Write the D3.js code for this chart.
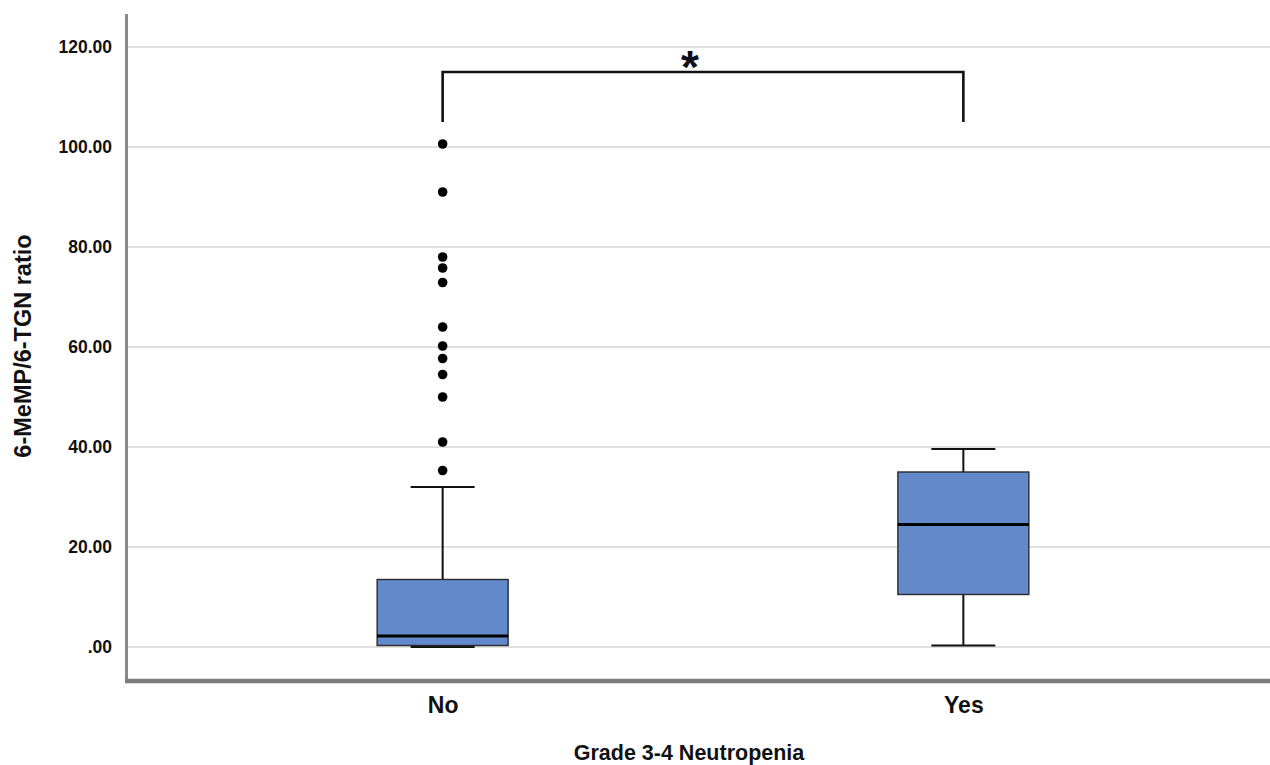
<!DOCTYPE html>
<html>
<head>
<meta charset="utf-8">
<script src="https://cdn.jsdelivr.net/npm/d3@7/dist/d3.min.js"></script>
<style>
  html, body { margin: 0; padding: 0; background: #fff; }
  svg { display: block; font-family: "Liberation Sans", Arial, sans-serif; }
</style>
</head>
<body>
<svg id="chart" width="1270" height="765"></svg>
<script>
// ---- data ----
const categories = ["No", "Yes"];
const whiskerLow = [0.0, 0.3];
const q1 = [0.3, 10.5];
const medians = [2.2, 24.5];
const q3 = [13.5, 35.0];
const whiskerHigh = [32.0, 39.6];
const outliersNo = [35.3, 41.0, 50.0, 54.5, 57.7, 60.2, 64.0, 72.9, 75.8, 78.0, 91.0, 100.6];
const outliersYes = [];
const yTicks = [0, 20, 40, 60, 80, 100, 120];
const bracketLevels = [105, 115]; // bottom of bracket legs, top bar
const yLabel = "6-MeMP/6-TGN ratio";
const xLabel = "Grade 3-4 Neutropenia";

// ---- layout ----
const svg = d3.select("#chart");
const left = 125, right = 1270, bottomAxisY = 681, topAxisY = 14;
const y = d3.scaleLinear().domain([0, 120]).range([647, 47]);
const x = d3.scalePoint().domain(categories).range([125, 1281]).padding(0.61);
const boxW = 131, capW = 64;

// gridlines
svg.append("g").selectAll("line").data(yTicks).join("line")
  .attr("x1", left).attr("x2", right)
  .attr("y1", d => y(d)).attr("y2", d => y(d))
  .attr("stroke", "#d6d6d6").attr("stroke-width", 1.6);

// y axis tick labels via d3 axis
const yAxis = d3.axisLeft(y).tickValues(yTicks).tickSize(0).tickPadding(13)
  .tickFormat(d => d === 0 ? ".00" : d.toFixed(2));
const gy = svg.append("g").attr("transform", `translate(${left},0)`).call(yAxis);
gy.select(".domain").remove();
gy.selectAll("text").attr("font-size", 17.5).attr("font-weight", "bold")
  .attr("fill", "#111").attr("font-family", "Liberation Sans, Arial, sans-serif");

// x axis labels
const gx = svg.append("g").attr("transform", `translate(0,${bottomAxisY})`)
  .call(d3.axisBottom(x).tickSize(0).tickPadding(16));
gx.select(".domain").remove();
gx.selectAll("text").attr("font-size", 23).attr("font-weight", "bold")
  .attr("fill", "#111").attr("font-family", "Liberation Sans, Arial, sans-serif");

// axis lines (thick gray)
svg.append("line").attr("x1", left + 1.5).attr("x2", left + 1.5)
  .attr("y1", topAxisY).attr("y2", bottomAxisY + 2)
  .attr("stroke", "#8a8a8a").attr("stroke-width", 3);
svg.append("line").attr("x1", left).attr("x2", right)
  .attr("y1", bottomAxisY).attr("y2", bottomAxisY)
  .attr("stroke", "#7c7c7c").attr("stroke-width", 4.5);

// boxes
const boxes = categories.map((c, i) => ({
  c, lo: whiskerLow[i], q1: q1[i], med: medians[i], q3: q3[i], hi: whiskerHigh[i]
}));
const g = svg.append("g");
boxes.forEach(b => {
  const cx = x(b.c);
  g.append("line").attr("x1", cx).attr("x2", cx).attr("y1", y(b.q3)).attr("y2", y(b.hi))
    .attr("stroke", "#111").attr("stroke-width", 2);
  g.append("line").attr("x1", cx).attr("x2", cx).attr("y1", y(b.q1)).attr("y2", y(b.lo))
    .attr("stroke", "#111").attr("stroke-width", 2);
  g.append("line").attr("x1", cx - capW / 2).attr("x2", cx + capW / 2)
    .attr("y1", y(b.hi)).attr("y2", y(b.hi)).attr("stroke", "#111").attr("stroke-width", 2.2);
  g.append("line").attr("x1", cx - capW / 2).attr("x2", cx + capW / 2)
    .attr("y1", y(b.lo)).attr("y2", y(b.lo)).attr("stroke", "#111").attr("stroke-width", 2.2);
  g.append("rect").attr("x", cx - boxW / 2).attr("width", boxW)
    .attr("y", y(b.q3)).attr("height", y(b.q1) - y(b.q3))
    .attr("fill", "#6289c9").attr("stroke", "#2b2b2b").attr("stroke-width", 1.4);
  g.append("line").attr("x1", cx - boxW / 2).attr("x2", cx + boxW / 2)
    .attr("y1", y(b.med)).attr("y2", y(b.med)).attr("stroke", "#000").attr("stroke-width", 3);
});

// outliers
const outs = [
  ...outliersNo.map(v => ({ c: "No", v })),
  ...outliersYes.map(v => ({ c: "Yes", v }))
];
svg.append("g").selectAll("circle").data(outs).join("circle")
  .attr("cx", d => x(d.c)).attr("cy", d => y(d.v)).attr("r", 4.8).attr("fill", "#000");

// significance bracket
const bx1 = x("No"), bx2 = x("Yes");
svg.append("path")
  .attr("d", d3.line()([[bx1, y(bracketLevels[0])], [bx1, y(bracketLevels[1])],
                        [bx2, y(bracketLevels[1])], [bx2, y(bracketLevels[0])]]))
  .attr("fill", "none").attr("stroke", "#111").attr("stroke-width", 2.6);
svg.append("text").attr("x", (bx1 + bx2) / 2 - 13).attr("y", y(bracketLevels[1]) + 11)
  .attr("text-anchor", "middle").attr("font-size", 46).attr("font-weight", "bold")
  .attr("fill", "#0d0d1a").text("*");

// axis titles
svg.append("text").attr("transform", `translate(31,346) rotate(-90)`)
  .attr("text-anchor", "middle").attr("font-size", 23.5).attr("font-weight", "bold")
  .attr("fill", "#111").text(yLabel);
svg.append("text").attr("x", 689).attr("y", 760)
  .attr("text-anchor", "middle").attr("font-size", 21.5).attr("font-weight", "bold")
  .attr("fill", "#111").text(xLabel);
</script>
</body>
</html>
